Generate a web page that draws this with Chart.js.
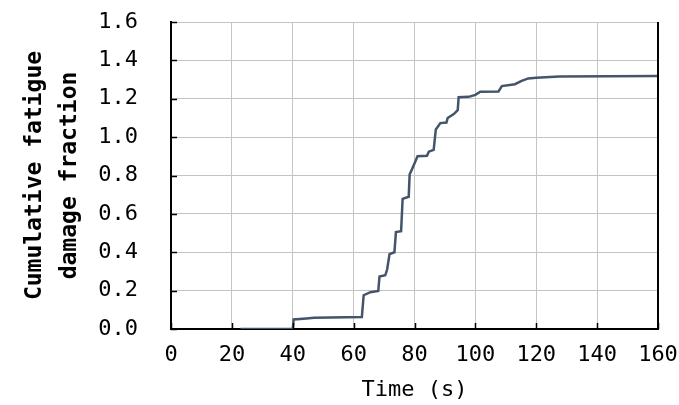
<!DOCTYPE html>
<html>
<head>
<meta charset="utf-8">
<script src="https://cdn.jsdelivr.net/npm/chart.js@4/dist/chart.umd.min.js"></script>
<style>
  html, body { margin: 0; padding: 0; background: #fff; }
  #chart { display: block; }
</style>
</head>
<body>
<canvas id="chart" width="679" height="405"></canvas>
<script>
// time (s) and cumulative damage
const timeS = [22.8, 40.0, 40.3, 44.5, 47.0, 62.7, 63.3, 65.5, 68.1, 68.5, 70.4, 71.0, 71.8, 73.4, 73.9, 75.6,
  76.1, 78.1, 78.4, 79.5, 81.0, 84.1, 84.7, 86.3, 87.0, 88.5, 90.5, 90.9, 92.9, 94.2, 94.5, 97.8, 100.0,
  101.6, 107.6, 108.7, 113.0, 115.2, 117.4, 120.0, 127.6, 160.0];
const damage = [0, 0, 0.05, 0.055, 0.058, 0.062, 0.176, 0.192, 0.198, 0.273, 0.28, 0.31, 0.39, 0.40, 0.505, 0.51,
  0.678, 0.689, 0.805, 0.844, 0.90, 0.903, 0.924, 0.934, 1.04, 1.073, 1.076, 1.10, 1.12, 1.14, 1.208, 1.21, 1.22,
  1.237, 1.238, 1.266, 1.276, 1.293, 1.306, 1.31, 1.316, 1.318];
const xTicks = [0, 20, 40, 60, 80, 100, 120, 140, 160];
const yTicks = [0, 0.2, 0.4, 0.6, 0.8, 1.0, 1.2, 1.4, 1.6];

const FONT = '"DejaVu Sans Mono", "Liberation Mono", monospace';

const points = timeS.map((t, i) => ({ x: t, y: damage[i] }));

// inward tick marks and the black right-hand frame line
const frame = {
  id: 'frame',
  afterDraw(chart) {
    const { ctx, chartArea: a, scales } = chart;
    ctx.save();
    ctx.strokeStyle = '#000';
    ctx.lineWidth = 1.5;
    ctx.beginPath();
    xTicks.forEach((v) => {
      const px = Math.round(scales.x.getPixelForValue(v)) + 0.5;
      ctx.moveTo(px, a.bottom);
      ctx.lineTo(px, a.bottom - 6);
    });
    yTicks.forEach((v) => {
      const py = Math.round(scales.y.getPixelForValue(v)) + 0.5;
      ctx.moveTo(a.left, py);
      ctx.lineTo(a.left + 6, py);
    });
    ctx.stroke();
    ctx.lineWidth = 2;
    ctx.beginPath();
    ctx.moveTo(a.right, a.top);
    ctx.lineTo(a.right, a.bottom);
    ctx.stroke();
    ctx.restore();
  }
};

new Chart(document.getElementById('chart'), {
  type: 'line',
  data: {
    datasets: [{
      data: points,
      borderColor: '#44546A',
      borderWidth: 2.5,
      pointRadius: 0,
      tension: 0,
      fill: false
    }]
  },
  options: {
    responsive: false,
    animation: false,
    layout: { padding: { left: 0, right: 21, top: 22, bottom: 0 } },
    plugins: { legend: { display: false }, tooltip: { enabled: false } },
    scales: {
      x: {
        type: 'linear',
        min: 0,
        max: 160,
        afterBuildTicks(scale) { scale.ticks = xTicks.map((v) => ({ value: v })); },
        afterFit(scale) { scale.height = 76; },
        grid: { color: '#c4c4c4', lineWidth: 1, drawTicks: true, tickLength: 13, tickColor: 'rgba(0,0,0,0)' },
        border: { color: '#000', width: 2 },
        ticks: {
          autoSkip: false,
          maxRotation: 0,
          padding: 0,
          color: '#000',
          font: { family: FONT, size: 22 }
        },
        title: {
          display: true,
          text: 'Time (s)',
          color: '#000',
          font: { family: FONT, size: 22 },
          padding: { top: 0, bottom: 2 }
        }
      },
      y: {
        min: 0,
        max: 1.6,
        afterBuildTicks(scale) { scale.ticks = yTicks.map((v) => ({ value: v })); },
        afterFit(scale) { scale.width = 171; },
        grid: { color: '#c4c4c4', lineWidth: 1, drawTicks: true, tickLength: 33, tickColor: 'rgba(0,0,0,0)' },
        border: { color: '#000', width: 2 },
        ticks: {
          padding: 0,
          color: '#000',
          font: { family: FONT, size: 22 },
          callback: (v) => Number(v).toFixed(1)
        },
        title: {
          display: true,
          text: ['Cumulative fatigue', 'damage fraction'],
          color: '#000',
          font: { family: FONT, size: 23, weight: 'bold', lineHeight: 1.5 },
          padding: { top: 18, bottom: 0 }
        }
      }
    }
  },
  plugins: [frame]
});
</script>
</body>
</html>
